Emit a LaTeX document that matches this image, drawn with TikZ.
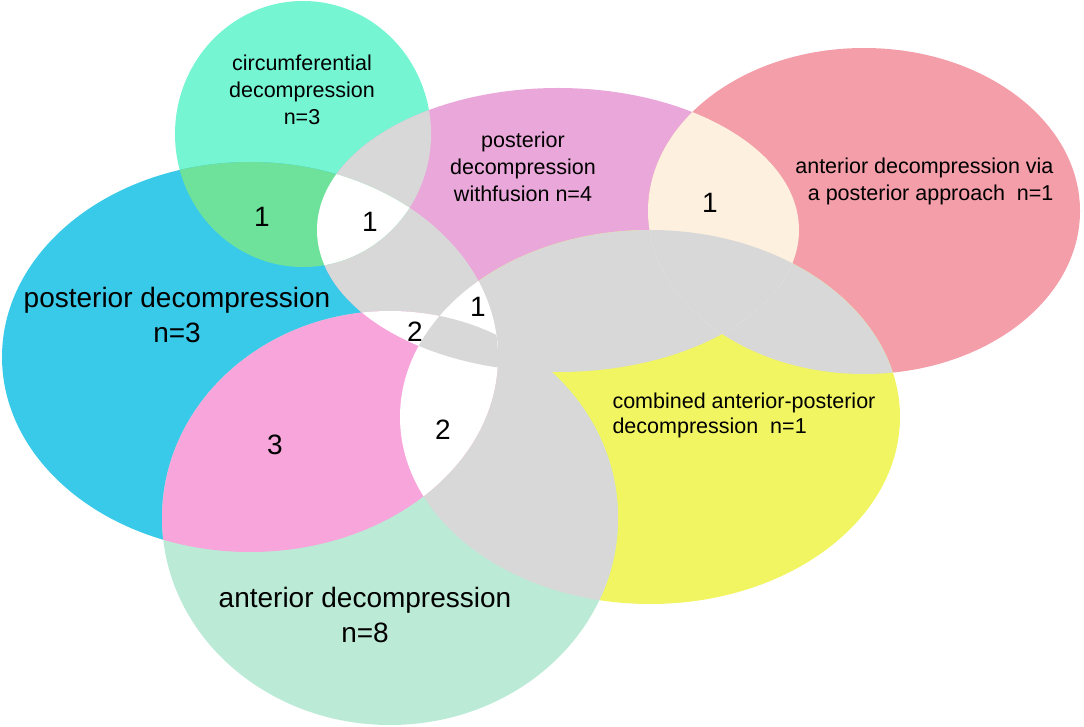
\documentclass[tikz,border=0pt]{standalone}
\usepackage{fontspec}
\setmainfont{Liberation Sans}
\definecolor{cteal}{HTML}{76F5D3}
\definecolor{cblue}{HTML}{3ACAE9}
\definecolor{cviolet}{HTML}{EAA7DA}
\definecolor{csalmon}{HTML}{F39EA9}
\definecolor{cyellow}{HTML}{F1F562}
\definecolor{cmint}{HTML}{BBEBD6}
\definecolor{cgreen}{HTML}{6EE29A}
\definecolor{cpink}{HTML}{F7A5DB}
\definecolor{ccream}{HTML}{FEF0DE}
\definecolor{cgrey}{HTML}{D8D8D8}
\def\Cell{(303,134) ellipse [x radius=128pt, y radius=133pt]}
\def\Pell{(250,357) ellipse [x radius=248pt, y radius=195pt]}
\def\Fell{(558,230) ellipse [x radius=241pt, y radius=142pt]}
\def\Vell{(864,211) ellipse [x radius=216pt, y radius=163pt]}
\def\Yell{(650,417) ellipse [x radius=250pt, y radius=187pt]}
\def\Aell{(390,518) ellipse [x radius=228pt, y radius=207pt]}
\begin{document}
\begin{tikzpicture}[x=1pt,y=-1pt,
  small/.style={font=\fontsize{21.5}{27}\selectfont, align=center, text=black},
  big/.style={font=\fontsize{28}{35}\selectfont, align=center, text=black},
  num/.style={font=\fontsize{28}{30}\selectfont, text=black}]
\useasboundingbox (0,0) rectangle (1084,727);
% base sets
\fill[cteal] \Cell;
\fill[cblue] \Pell;
\fill[cviolet] \Fell;
\fill[csalmon] \Vell;
\fill[cyellow] \Yell;
\fill[cmint] \Aell;
% pairwise overlaps grey
\begin{scope}\clip \Cell; \fill[cgrey] \Fell; \end{scope}
\begin{scope}\clip \Pell; \fill[cgrey] \Fell; \end{scope}
\begin{scope}\clip \Pell; \fill[cgrey] \Yell; \end{scope}
\begin{scope}\clip \Fell; \fill[cgrey] \Yell; \end{scope}
\begin{scope}\clip \Fell; \fill[cgrey] \Aell; \end{scope}
\begin{scope}\clip \Vell; \fill[cgrey] \Yell; \end{scope}
\begin{scope}\clip \Aell; \fill[cgrey] \Yell; \end{scope}
% coloured pairs
\begin{scope}\clip \Cell; \fill[cgreen] \Pell; \end{scope}
\begin{scope}\clip \Pell; \fill[cpink] \Aell; \end{scope}
\begin{scope}\clip \Fell; \fill[ccream] \Vell; \end{scope}
% white triples
\begin{scope}\clip \Cell; \clip \Pell; \fill[white] \Fell; \end{scope}
\begin{scope}\clip \Pell; \clip \Fell; \fill[white] \Aell; \end{scope}
\begin{scope}\clip \Pell; \clip \Fell; \fill[white] \Yell; \end{scope}
\begin{scope}\clip \Pell; \clip \Aell; \fill[white] \Yell; \end{scope}
% grey higher overlaps
\begin{scope}\clip \Pell; \clip \Aell; \clip \Fell; \fill[cgrey] \Yell; \end{scope}
\begin{scope}\clip \Fell; \clip \Vell; \fill[cgrey] \Yell; \end{scope}
% labels
\node[small] (tc) at (302,90) {circumferential\\decompression\\n=3};
\node[small] (tf) at (523,167) {posterior\\decompression\\withfusion n=4};
\node[small, align=right, anchor=east] (tv) at (1057,181) {anterior decompression via\\a posterior approach\ \ n=1};
\node[small, align=left, anchor=west, font=\fontsize{21.5}{25}\selectfont] (ty) at (609,415) {combined anterior-posterior\\decompression\ \ n=1};
\node[big] (tp) at (177,315) {posterior decompression\\n=3};
\node[big] (ta) at (365,615) {anterior decompression\\n=8};
\node[num] (n1) at (262,217) {1};
\node[num] (n2) at (370,222) {1};
\node[num] (n3) at (478,307) {1};
\node[num] (n4) at (415,332) {2};
\node[num] (n5) at (443,430) {2};
\node[num] (n6) at (275,445) {3};
\node[num] (n7) at (710,203) {1};
\end{tikzpicture}
\end{document}
